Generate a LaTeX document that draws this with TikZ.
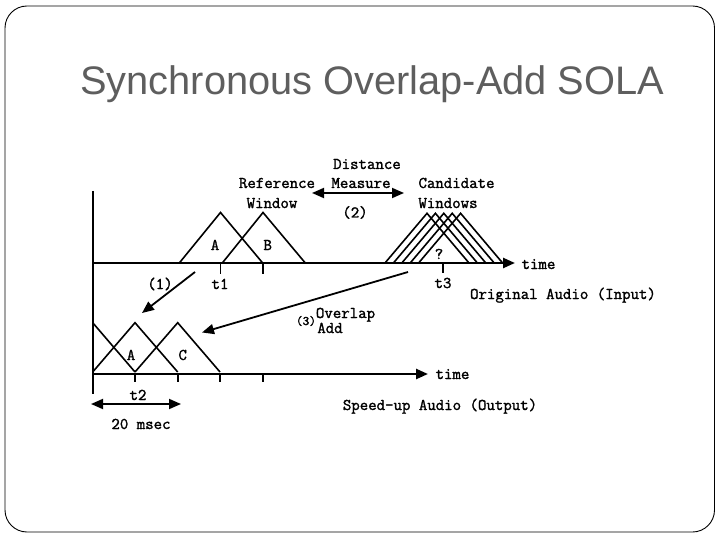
\documentclass[tikz,border=0pt]{standalone}
\usepackage{fontspec}
\setmainfont{Liberation Sans}
\newfontfamily\courfont{Latin Modern Mono}[FakeBold=1.6]
\usetikzlibrary{arrows.meta}
\definecolor{titlegray}{HTML}{5E5E5E}
\tikzset{
  lbl/.style={font=\courfont\fontsize{16.4}{18}\selectfont, inner sep=0pt, anchor=base},
  small/.style={font=\courfont\fontsize{13}{15}\selectfont, inner sep=0pt, anchor=base},
  axis/.style={line width=2.4pt},
  tri/.style={line width=1.6pt, line join=miter},
  tick/.style={line width=1.8pt},
  tip/.style={-{Triangle[length=12pt,width=10pt]}},
  dtip/.style={{Triangle[length=12pt,width=10pt]}-{Triangle[length=12pt,width=10pt]}},
  conn/.style={line width=1.8pt}
}
\begin{document}
\begin{tikzpicture}[x=1pt,y=-1pt]
\useasboundingbox (0,0) rectangle (720,540);
% frame
\draw[line width=0.9pt, rounded corners=22pt] (5,6) rectangle (714.5,532);
% title
\node[font=\fontsize{39.8}{44}\selectfont, text=titlegray, anchor=base west, inner sep=0pt] (title) at (80,95) {Synchronous Overlap-Add SOLA};

% coordinates
\coordinate (vtop) at (92.7,191);
\coordinate (vbot) at (92.7,394);
\coordinate (ax1s) at (92.7,263);
\coordinate (ax1e) at (515,263);
\coordinate (ax2s) at (92.7,374);
\coordinate (ax2e) at (428,374);

% axes
\draw[axis] (vtop) -- (vbot);
\draw[axis, tip] (ax1s) -- (ax1e);
\draw[axis, tip] (ax2s) -- (ax2e);

% top triangles A and B
\draw[tri] (179.3,263) -- (220.5,212.5) -- (262.7,263);
\draw[tri] (222.3,263) -- (263,212.5) -- (305.3,263);
% candidate windows
\foreach \i in {0,...,4}{
  \draw[tri] ({385+8.4*\i},263) -- ({427+8.4*\i},213.3) -- ({469+8.4*\i},263);
}
% top ticks
\draw[tick] (220.5,263) -- (220.5,274);
\draw[tick] (263,263) -- (263,274);
\draw[tick] (443,263) -- (443,273);

% bottom triangles
\draw[tri] (92.7,322.7) -- (135,372);
\draw[tri] (92.7,372) -- (135,322.7) -- (177.7,372);
\draw[tri] (135,372) -- (177.7,322.7) -- (220,372);
% bottom ticks
\foreach \x in {135,177.7,220,263}{
  \draw[tick] (\x,374) -- (\x,382);
}

% labels
\node[lbl] (ref1) at (277,188) {Reference};
\node[lbl] (ref2) at (272,208) {Window};
\node[lbl] (dist1) at (367,169) {Distance};
\node[lbl] (dist2) at (361,188) {Measure};
\node[lbl] (two) at (355,217.5) {(2)};
\node[lbl] (cand1) at (456.5,188) {Candidate};
\node[lbl] (cand2) at (448,208) {Windows};
\node[lbl] (lA) at (215,250) {A};
\node[lbl] (lB) at (267.7,250) {B};
\node[lbl] (q) at (439,259) {?};
\node[lbl] (time1) at (538.5,269) {time};
\node[lbl] (one) at (160,289) {(1)};
\node[lbl] (t1) at (220,289) {t1};
\node[lbl] (t3) at (443,288) {t3};
\node[lbl] (orig) at (563,299) {Original Audio (Input)};
\node[small] (three) at (306,325) {(3)};
\node[lbl] (ov1) at (345.5,318) {Overlap};
\node[lbl] (ov2) at (330,333) {Add};
\node[lbl] (bA) at (131,360) {A};
\node[lbl] (bC) at (182.7,360) {C};
\node[lbl] (time2) at (452.5,379) {time};
\node[lbl] (t2) at (138,400) {t2};
\node[lbl] (speed) at (440,410) {Speed-up Audio (Output)};
\node[lbl] (ms) at (141,429) {20 msec};

% connectors
\coordinate (dmL) at (312,193);
\coordinate (dmR) at (404,193);
\draw[conn, dtip] (dmL) -- (dmR);
\coordinate (msL) at (91,404);
\coordinate (msR) at (181,404);
\draw[conn, dtip] (msL) -- (msR);
\coordinate (a1s) at (195,272);
\coordinate (a1e) at (142,313);
\draw[conn, tip] (a1s) -- (a1e);
\coordinate (a3s) at (408,272);
\coordinate (a3e) at (202,332.5);
\draw[conn, tip] (a3s) -- (a3e);
\end{tikzpicture}
\end{document}
